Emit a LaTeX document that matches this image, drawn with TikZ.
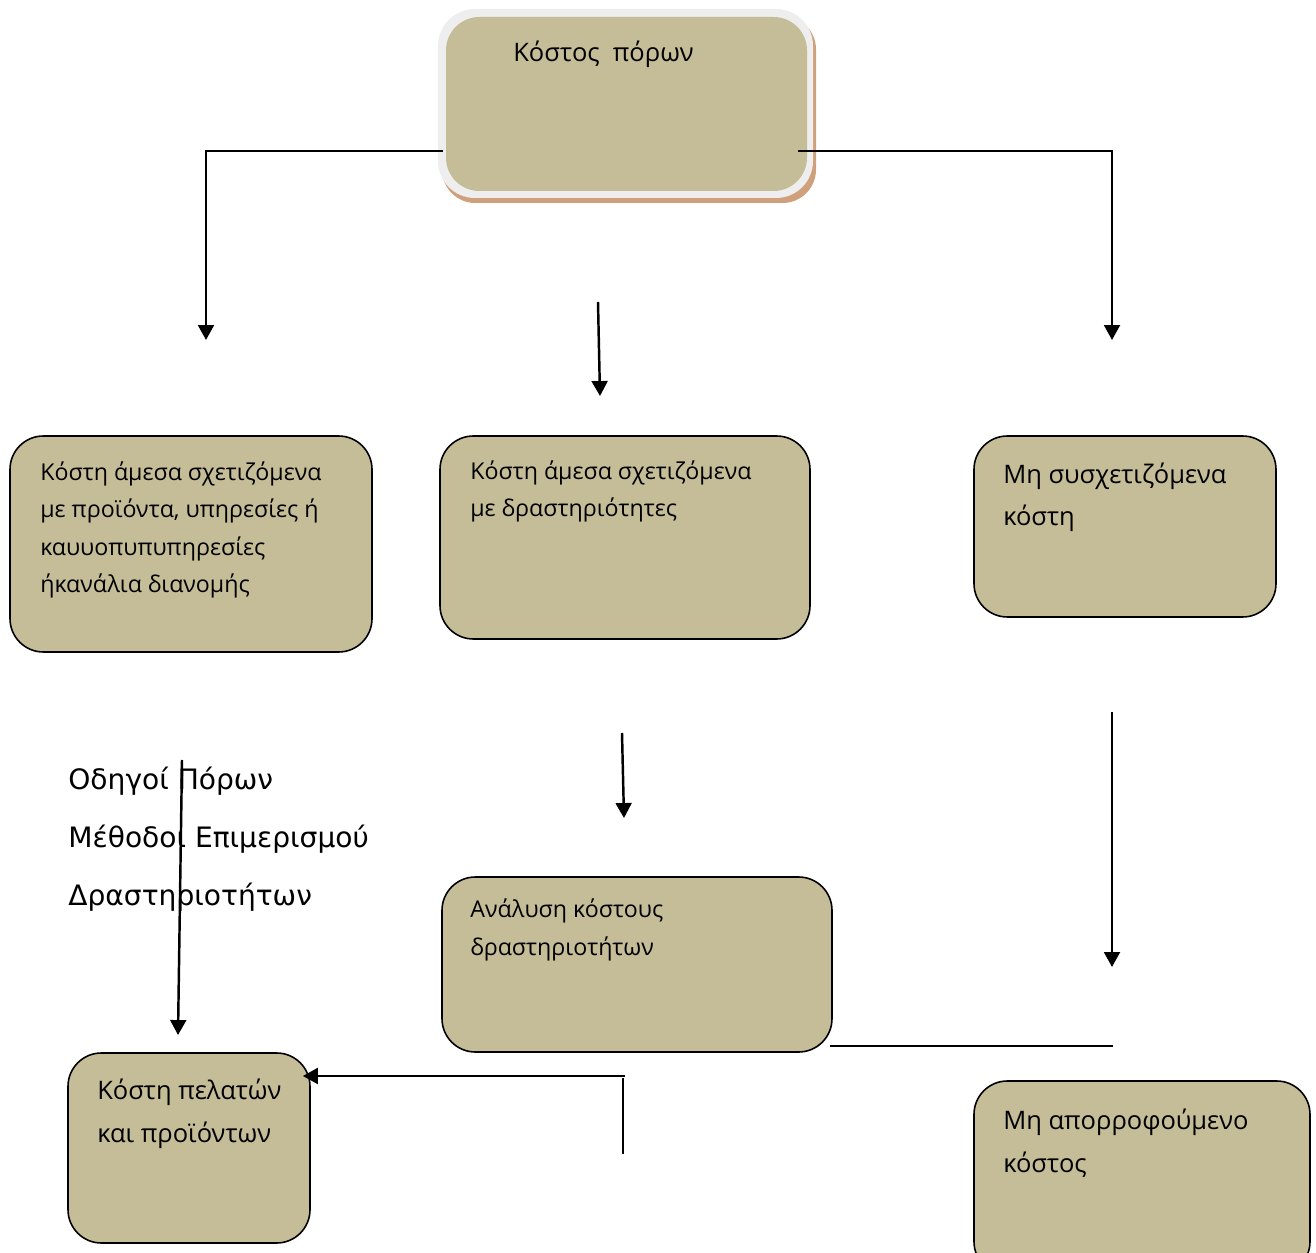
\documentclass[tikz,border=0pt]{standalone}
\usepackage{fontspec}
\setmainfont{Open Sans}
\newfontfamily\guidefont{DejaVu Sans}
\usetikzlibrary{arrows.meta, positioning, fit}
\definecolor{boxtan}{HTML}{C4BD97}
\definecolor{glowgray}{HTML}{EEEEEE}
\definecolor{shadowbrown}{HTML}{CFA07B}
\tikzset{
	costbox/.style={draw, line width=0.9pt, rounded corners=19pt, fill=boxtan, inner sep=0pt},
	boxtxt/.style={anchor=base west, inner sep=0pt, align=left, font=\fontsize{13.2}{21.4}\selectfont},
	bigtxt/.style={boxtxt, font=\fontsize{14.5}{24.2}\selectfont},
	flowline/.style={line width=1.4pt},
	flowarr/.style={flowline, -{Triangle[length=8.5pt, width=9pt]}},
}

\begin{document}
\begin{tikzpicture}[x=0.02cm, y=-0.02cm]
	\useasboundingbox (0,0) rectangle (1316,1253);

	% Resource cost (top, with glow and shadow)
	\fill[shadowbrown, rounded corners=19pt] (442,16) rectangle (816,203);
	\fill[glowgray, rounded corners=21pt] (438,9) rectangle (813,198);
	\node[costbox, draw=none, fit={(446,17) (807,191)}] (res) {};
	\node[bigtxt] (restxt) at (513,62) {Κόστος~~πόρων};

	% Three cost groups (text anchored on the last line)
	\node[costbox, fit={(10,436) (372,652)}] (direct) {};
	\node[boxtxt] (directtxt) at (40,593) {Κόστη άμεσα σχετιζόμενα\\με προϊόντα, υπηρεσίες ή\\καυυοπυπυπηρεσίες\\ήκανάλια διανομής};
	\node[costbox, fit={(440,436) (810,639)}] (activ) {};
	\node[boxtxt] (activtxt) at (470,517) {Κόστη άμεσα σχετιζόμενα\\με δραστηριότητες};
	\node[costbox, fit={(974,436) (1276,617)}] (unrel) {};
	\node[bigtxt] (unreltxt) at (1003,526) {Μη συσχετιζόμενα\\κόστη};

	% Analysis and results
	\node[costbox, fit={(442,877) (832,1052)}] (anal) {};
	\node[boxtxt] (analtxt) at (470,955) {Ανάλυση κόστους\\δραστηριοτήτων};
	\node[costbox, fit={(974,1081) (1310,1275)}] (unabs) {};
	\node[bigtxt] (unabstxt) at (1003,1172) {Μη απορροφούμενο\\κόστος};
	\node[costbox, fit={(68,1053) (310,1243)}] (cust) {};
	\node[bigtxt] (custtxt) at (97,1142) {Κόστη πελατών\\και προϊόντων};

	% Drivers text
	\node[anchor=base west, inner sep=0pt, align=left, font=\guidefont\fontsize{16}{33}\selectfont] (drivers) at (68,905) {Οδηγοί Πόρων\\Μέθοδοι Επιμερισμού\\Δραστηριοτήτων};

	% Free ends of the connectors
	\coordinate (splitL) at (443,151);
	\coordinate (splitR) at (798,151);
	\coordinate (tipL) at (206,340);
	\coordinate (tipR) at (1112,340);
	\coordinate (midA) at (598,302);
	\coordinate (midAtip) at (600,396);
	\coordinate (midB) at (622,733);
	\coordinate (midBtip) at (624,818);
	\coordinate (rightB) at (1112,712);
	\coordinate (rightBtip) at (1112,967);
	\coordinate (drvTop) at (182,760);
	\coordinate (drvTip) at (178,1035);
	\coordinate (joinL) at (830,1046);
	\coordinate (joinR) at (1113,1046);
	\coordinate (feed) at (625,1076);
	\coordinate (stubTop) at (623,1078);
	\coordinate (stubBot) at (623,1154);

	\draw[flowarr] (splitL) -| (tipL);
	\draw[flowarr] (splitR) -| (tipR);
	\draw[flowarr] (midA) -- (midAtip);
	\draw[flowarr] (midB) -- (midBtip);
	\draw[flowarr] (rightB) -- (rightBtip);
	\draw[flowarr] (drvTop) -- (drvTip);
	\draw[flowline] (joinL) -- (joinR);
	\draw[flowarr, shorten >=-4.5pt] (feed) -- (feed -| cust.east);
	\draw[line width=1pt] (stubTop) -- (stubBot);
\end{tikzpicture}
\end{document}
